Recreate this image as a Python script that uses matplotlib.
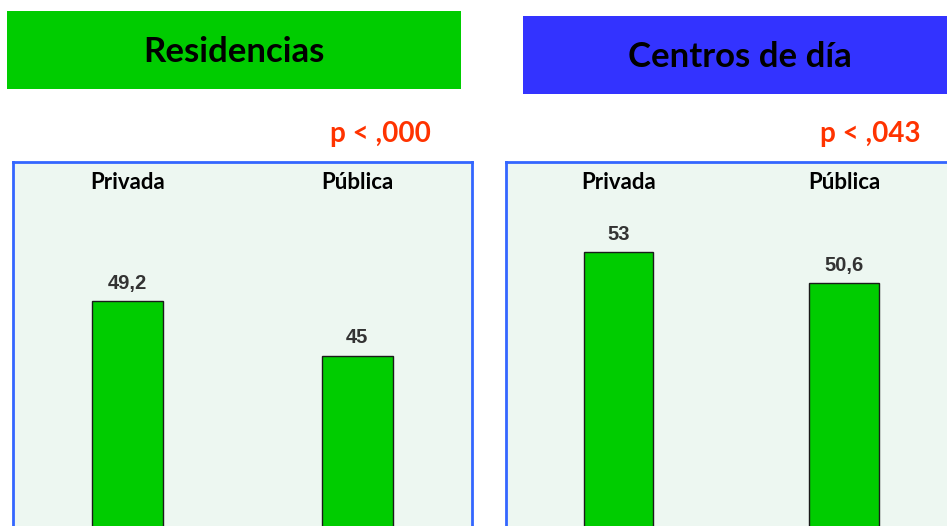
import matplotlib
matplotlib.use("Agg")
import matplotlib.pyplot as plt
from matplotlib.patches import Rectangle

# ---- data ----
panel_titles = ["Residencias", "Centros de día"]
p_values = ["p < ,000", "p < ,043"]
categories = ["Privada", "Pública"]
residencias = [49.2, 45.0]
centros_dia = [53.0, 50.6]
value_labels = [["49,2", "45"], ["53", "50,6"]]
series = [residencias, centros_dia]

W, H = 947, 526
DPI = 100
fig = plt.figure(figsize=(W / DPI, H / DPI), dpi=DPI)
fig.patch.set_facecolor("white")

def fx(px):
    return px / W

def fy(py):
    return 1 - py / H

title_font = "Lato"
val_font = "Liberation Sans"

# header boxes: (x0, y0_top, x1, y1_bottom) in px, colour
headers = [((7, 11, 461, 89), "#00CC00"), ((523, 16, 960, 94), "#3333FF")]
for (x0, y0, x1, y1), col in headers:
    fig.add_artist(Rectangle((fx(x0), fy(y1)), fx(x1 - x0), (y1 - y0) / H,
                             transform=fig.transFigure, facecolor=col,
                             edgecolor="none", zorder=0))
header_text_pos = [(234, 52), (740, 57)]
for (tx, ty), t in zip(header_text_pos, panel_titles):
    fig.text(fx(tx), fy(ty), t, ha="center", va="center", fontsize=25,
             fontweight="bold", family=title_font, color="black")

p_pos = [(380, 134), (870, 134)]
for (tx, ty), t in zip(p_pos, p_values):
    fig.text(fx(tx), fy(ty), t, ha="center", va="center", fontsize=20,
             fontweight="bold", family=title_font, color="#FF3300")

# axes: left px, width px; top/bottom px from value scale
ymax = 60
scale = 12.9
top = 162
bottom = top + ymax * scale
axes_px = [(13, 459), (505.75, 451)]

for i, ((ax_l, ax_w), vals) in enumerate(zip(axes_px, series)):
    ax = fig.add_axes([fx(ax_l), fy(bottom), fx(ax_w), (bottom - top) / H])
    ax.set_facecolor("#EDF7F1")
    x = list(range(len(categories)))
    bars = ax.bar(x, vals, width=0.31, color="#00CC00", edgecolor="#1a1a1a",
                  linewidth=1, zorder=2)
    ax.set_xlim(-0.5, len(categories) - 0.5)
    ax.set_ylim(0, ymax)
    for b, lab in zip(bars, value_labels[i]):
        ax.annotate(lab, (b.get_x() + b.get_width() / 2, b.get_height()),
                    xytext=(0, 6), textcoords="offset points", ha="center",
                    va="bottom", fontsize=14.5, fontweight="bold",
                    family=val_font, color="#333333")
    for xi, c in zip(x, categories):
        ax.text(xi, 1 - 21 / (bottom - top), c, transform=ax.get_xaxis_transform(),
                ha="center", va="center", fontsize=16, fontweight="bold",
                family=title_font, color="black")
    ax.set_xticks([])
    ax.set_yticks([])
    for s in ax.spines.values():
        s.set_color("#3366FF")
        s.set_linewidth(2)

fig.savefig("out.png", dpi=DPI)
